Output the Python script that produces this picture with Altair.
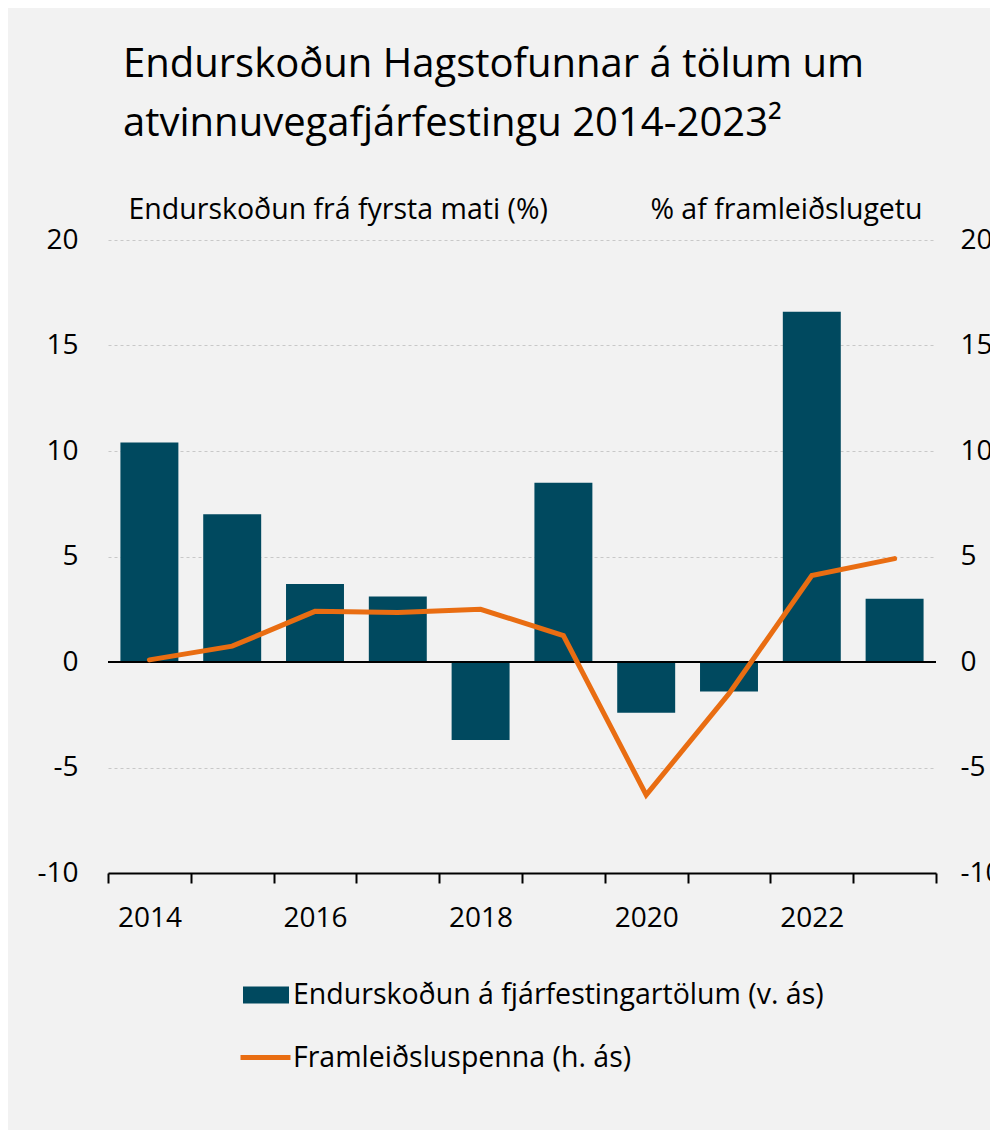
import altair as alt
import pandas as pd

years = [2014, 2015, 2016, 2017, 2018, 2019, 2020, 2021, 2022, 2023]
revision = [10.4, 7.0, 3.7, 3.1, -3.7, 8.5, -2.4, -1.4, 16.6, 3.0]
output_gap = [0.1, 0.75, 2.4, 2.35, 2.5, 1.25, -6.3, -1.5, 4.1, 4.9]
y_ticks = [-10, -5, 0, 5, 10, 15, 20]
x_tick_edges = [2013.5 + i for i in range(11)]

bar_label = "Endurskoðun á fjárfestingartölum (v. ás)"
line_label = "Framleiðsluspenna (h. ás)"
left_title = "Endurskoðun  frá fyrsta mati (%)"
right_title = "% af framleiðslugetu"
title_lines = ["Endurskoðun Hagstofunnar á tölum um", "atvinnuvegafjárfestingu 2014-2023²"]

FONT = "Open Sans"
TEAL = "#00495F"
ORANGE = "#E96D12"
BG = "#F2F2F2"

W, H = 828, 633

df = pd.DataFrame({"year": years, "rev": revision, "gap": output_gap})
df["bar_series"] = bar_label
df["line_series"] = line_label

x_scale = alt.Scale(domain=[2013.5, 2023.5], nice=False, zero=False, padding=0)
x_axis = alt.Axis(
    values=x_tick_edges,
    title=None,
    grid=False,
    domainColor="#000000",
    domainWidth=2,
    tickColor="#000000",
    tickWidth=2,
    tickSize=10,
    labelExpr="((datum.value + 0.5) % 2 == 0 && datum.value < 2023) ? format(datum.value + 0.5, 'd') : ''",
    labelOffset=W / 20,
    labelFont=FONT,
    labelFontSize=28,
    labelColor="#000000",
    labelBaseline="alphabetic",
    labelPadding=43,
    labelOverlap=False,
    labelFlush=False,
    labelBound=False,
)

y_scale = alt.Scale(domain=[-10, 20], nice=False, zero=False, padding=0)
left_axis = alt.Axis(
    orient="left",
    values=y_ticks,
    grid=True,
    gridColor="#C8C8C8",
    gridDash=[3, 3],
    gridWidth=1,
    domain=False,
    ticks=False,
    tickSize=0,
    labelExpr="'' + datum.value",
    labelFont=FONT,
    labelFontSize=28,
    labelColor="#000000",
    labelPadding=30,
    labelBaseline="middle",
    title=left_title,
    titleFont=FONT,
    titleFontSize=28.5,
    titleFontWeight="normal",
    titleColor="#000000",
    titleAngle=0,
    titleAlign="left",
    titleBaseline="alphabetic",
    titleX=20,
    titleY=-22,
    titleLimit=0,
)
right_axis = alt.Axis(
    orient="right",
    values=y_ticks,
    grid=False,
    domain=False,
    ticks=False,
    tickSize=0,
    labelExpr="'' + datum.value",
    labelFont=FONT,
    labelFontSize=28,
    labelColor="#000000",
    labelPadding=24,
    labelBaseline="middle",
    title=right_title,
    titleFont=FONT,
    titleFontSize=28.5,
    titleFontWeight="normal",
    titleColor="#000000",
    titleAngle=0,
    titleAlign="right",
    titleBaseline="alphabetic",
    titleX=-14,
    titleY=-22,
    titleLimit=0,
)

base = alt.Chart(df)

bars = base.transform_calculate(
    x0="datum.year - 0.35", x1="datum.year + 0.35", base0="0"
).mark_bar(stroke=None).encode(
    x=alt.X("x0:Q", scale=x_scale, axis=x_axis, title=None),
    x2="x1:Q",
    y=alt.Y("rev:Q", scale=y_scale, axis=left_axis),
    y2="base0:Q",
    color=alt.Color(
        "bar_series:N",
        scale=alt.Scale(domain=[bar_label], range=[TEAL]),
        legend=alt.Legend(
            orient="none",
            legendX=135,
            legendY=732,
            title=None,
            padding=0,
            symbolType="M-1,-0.37H1V0.37H-1Z",
            symbolSize=2116,
            symbolStrokeWidth=0,
            labelFont=FONT,
            labelFontSize=28.5,
            labelColor="#000000",
            labelOffset=4,
            labelLimit=0,
        ),
    ),
)

zero_rule = alt.Chart(pd.DataFrame({"z": [0]})).mark_rule(
    color="#000000", strokeWidth=2
).encode(y=alt.Y("z:Q", scale=y_scale, axis=left_axis))

line = base.mark_line(strokeWidth=5, strokeCap="round").encode(
    x=alt.X("year:Q", scale=x_scale, axis=x_axis, title=None),
    y=alt.Y("gap:Q", scale=y_scale, axis=right_axis),
    stroke=alt.Stroke(
        "line_series:N",
        scale=alt.Scale(domain=[line_label], range=[ORANGE]),
        legend=alt.Legend(
            orient="none",
            legendX=130,
            legendY=790,
            title=None,
            padding=0,
            symbolType="stroke",
            symbolSize=2500,
            symbolStrokeWidth=5,
            labelFont=FONT,
            labelFontSize=28.5,
            labelColor="#000000",
            labelOffset=0,
            labelLimit=0,
        ),
    ),
)

left_layer = alt.layer(bars, zero_rule)

chart = alt.layer(left_layer, line).resolve_scale(
    y="independent", color="independent", stroke="independent"
).properties(
    width=W,
    height=H,
    background=BG,
    padding={"left": 100, "top": 232, "right": 54, "bottom": 257},
    autosize=alt.AutoSizeParams(type="none"),
    title=alt.TitleParams(
        text=title_lines,
        font=FONT,
        fontSize=40,
        fontWeight="normal",
        color="#000000",
        anchor="start",
        frame="group",
        dx=15,
        lineHeight=59,
        offset=51,
    ),
).configure_view(stroke=None)

chart.save("out.html", embed_options={"renderer": "svg", "actions": False})
